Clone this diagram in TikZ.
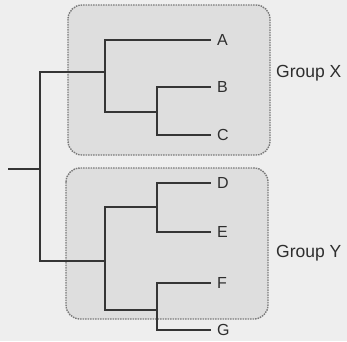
\documentclass[tikz,border=0pt]{standalone}
\usepackage{fontspec}
\setmainfont{Liberation Sans}
\definecolor{bgc}{HTML}{EEEEEE}
\definecolor{boxc}{HTML}{DEDEDE}
\definecolor{edgec}{HTML}{7A7A7A}
\definecolor{linec}{HTML}{353535}
\definecolor{textc}{HTML}{2E2E2E}
\tikzset{
  grp/.style={fill=boxc, draw=edgec, line width=1.4pt, dash pattern=on 1.5pt off 1pt, rounded corners=14pt},
  branch/.style={draw=linec, line width=2pt},
  leaf/.style={anchor=west, inner xsep=6pt, inner ysep=0pt, text=textc, font=\fontsize{16}{19}\selectfont},
  grplabel/.style={anchor=west, inner sep=0pt, text=textc, font=\fontsize{17.5}{20}\selectfont}
}
\begin{document}
\begin{tikzpicture}[x=1pt,y=-1pt]
\fill[bgc] (0,0) rectangle (347,341);
\useasboundingbox (0,0) rectangle (347,341);
\draw[grp] (68,5) rectangle (270,155);
\draw[grp] (66,168) rectangle (268,319);
\node[leaf] (A) at (211,40) {A};
\node[leaf] (B) at (211,87) {B};
\node[leaf] (C) at (211,135) {C};
\node[leaf] (D) at (211,183) {D};
\node[leaf] (E) at (211,232) {E};
\node[leaf] (F) at (211,283) {F};
\node[leaf] (G) at (211,330) {G};
\node[grplabel] (gx) at (276,73) {Group X};
\node[grplabel] (gy) at (276,253) {Group Y};
\coordinate (stub) at (8,169);
\coordinate (r) at (40,169);
\coordinate (nx) at (105,72);
\coordinate (nbc) at (157,112);
\coordinate (ny) at (105,261);
\coordinate (nde) at (157,207);
\coordinate (nfg) at (157,310);
\draw[branch] (stub) -- (r);
\draw[branch] (r) |- (nx);
\draw[branch] (r) |- (ny);
\draw[branch] (nx) |- (A.west);
\draw[branch] (nx) |- (nbc);
\draw[branch] (nbc) |- (B.west);
\draw[branch] (nbc) |- (C.west);
\draw[branch] (ny) |- (nde);
\draw[branch] (ny) |- (nfg);
\draw[branch] (nde) |- (D.west);
\draw[branch] (nde) |- (E.west);
\draw[branch] (nfg) |- (F.west);
\draw[branch] (nfg) |- (G.west);
\end{tikzpicture}
\end{document}
